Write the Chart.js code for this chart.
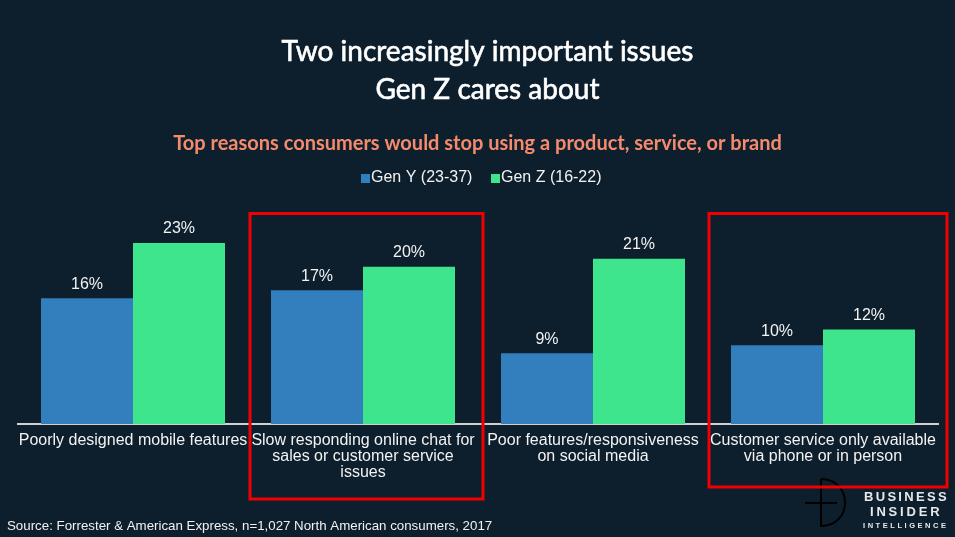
<!DOCTYPE html>
<html>
<head>
<meta charset="utf-8">
<style>
  html, body { margin: 0; padding: 0; background: #0d1f2d; overflow: hidden; }
  #wrap { width: 955px; height: 537px; }
</style>
<script src="https://cdn.jsdelivr.net/npm/chart.js@4/dist/chart.umd.min.js"></script>
</head>
<body>
<div id="wrap"><canvas id="chart" width="955" height="537"></canvas></div>
<script>
const categories = [
  ['Poorly designed mobile features'],
  ['Slow responding online chat for', 'sales or customer service', 'issues'],
  ['Poor features/responsiveness', 'on social media'],
  ['Customer service only available', 'via phone or in person']
];
const genY = [16, 17, 9, 10];
const genZ = [23, 20, 21, 12];
const seriesNames = ['Gen Y (23-37)', 'Gen Z (16-22)'];
const titleLines = ['Two increasingly important issues', 'Gen Z cares about'];
const subtitleText = 'Top reasons consumers would stop using a product, service, or brand';
const sourceText = 'Source: Forrester & American Express, n=1,027 North American consumers, 2017';

const sans = '"Liberation Sans", Arial, sans-serif';

// value labels above each bar
const barLabels = {
  id: 'barLabels',
  afterDatasetsDraw(chart) {
    const ctx = chart.ctx;
    ctx.save();
    ctx.font = '16px ' + sans;
    ctx.fillStyle = '#f2f2f2';
    ctx.textAlign = 'center';
    ctx.textBaseline = 'bottom';
    chart.data.datasets.forEach((ds, i) => {
      chart.getDatasetMeta(i).data.forEach((bar, j) => {
        ctx.fillText(ds.data[j] + '%', bar.x, bar.y - 6);
      });
    });
    ctx.restore();
  }
};

// headings, legend, red boxes, source line and logo
const extras = {
  id: 'extras',
  afterDraw(chart) {
    const ctx = chart.ctx;
    ctx.save();
    ctx.textBaseline = 'middle';
    ctx.textAlign = 'center';

    // title, stroked a little since there is no medium weight
    ctx.font = '28px Lato, sans-serif';
    ctx.fillStyle = '#ffffff';
    ctx.strokeStyle = '#ffffff';
    ctx.lineWidth = 0.6;
    titleLines.forEach((line, i) => {
      ctx.fillText(line, 487.5, 51.5 + i * 38);
      ctx.strokeText(line, 487.5, 51.5 + i * 38);
    });

    ctx.font = 'bold 20px Lato, sans-serif';
    ctx.fillStyle = '#f58a6c';
    ctx.fillText(subtitleText, 477.5, 144);

    // legend
    ctx.textAlign = 'left';
    ctx.font = '16px ' + sans;
    const legendX = [361, 491];
    chart.data.datasets.forEach((ds, i) => {
      ctx.fillStyle = ds.backgroundColor;
      ctx.fillRect(legendX[i], 174, 9, 9);
      ctx.fillStyle = '#f2f2f2';
      ctx.fillText(seriesNames[i], legendX[i] + 10, 178);
    });

    ctx.font = '13.3px ' + sans;
    ctx.fillText(sourceText, 7, 526);

    // logo mark
    ctx.strokeStyle = '#000000';
    ctx.lineWidth = 2;
    ctx.beginPath();
    ctx.moveTo(821, 479);
    ctx.lineTo(821, 526);
    ctx.bezierCurveTo(853, 526, 853, 479, 821, 479);
    ctx.moveTo(805, 503);
    ctx.lineTo(837, 503);
    ctx.stroke();

    // logo text
    ctx.fillStyle = '#e6e9ec';
    ctx.font = 'bold 13px ' + sans;
    ctx.letterSpacing = '2.3px';
    ctx.fillText('BUSINESS', 864, 497);
    ctx.letterSpacing = '2.8px';
    ctx.fillText('INSIDER', 870, 512);
    ctx.font = 'bold 7.5px ' + sans;
    ctx.letterSpacing = '2.55px';
    ctx.fillText('INTELLIGENCE', 863, 526);
    ctx.letterSpacing = '0px';

    // highlight boxes
    ctx.strokeStyle = '#f00000';
    ctx.lineWidth = 3;
    ctx.strokeRect(250, 213.5, 233, 285.5);
    ctx.strokeRect(709, 213.5, 238, 273.5);
    ctx.restore();
  }
};

new Chart(document.getElementById('chart'), {
  type: 'bar',
  data: {
    labels: categories,
    datasets: [
      { label: seriesNames[0], data: genY, backgroundColor: '#337fbd' },
      { label: seriesNames[1], data: genZ, backgroundColor: '#3ee58c' }
    ]
  },
  options: {
    responsive: false,
    animation: false,
    layout: { padding: { left: 18, right: 17, top: 188, bottom: 0 } },
    datasets: { bar: { categoryPercentage: 0.8, barPercentage: 1 } },
    plugins: {
      tooltip: { enabled: false },
      title: { display: false },
      legend: { display: false }
    },
    scales: {
      x: {
        grid: { display: false },
        border: { display: true, color: '#d0d0d0', width: 2 },
        afterFit(scale) { scale.height = 113; },
        ticks: {
          color: '#f2f2f2',
          font: { family: sans, size: 16, lineHeight: 1 },
          padding: 1,
          autoSkip: false,
          maxRotation: 0,
          minRotation: 0
        }
      },
      y: {
        display: false,
        min: 0,
        max: 30
      }
    }
  },
  plugins: [barLabels, extras]
});
</script>
</body>
</html>
